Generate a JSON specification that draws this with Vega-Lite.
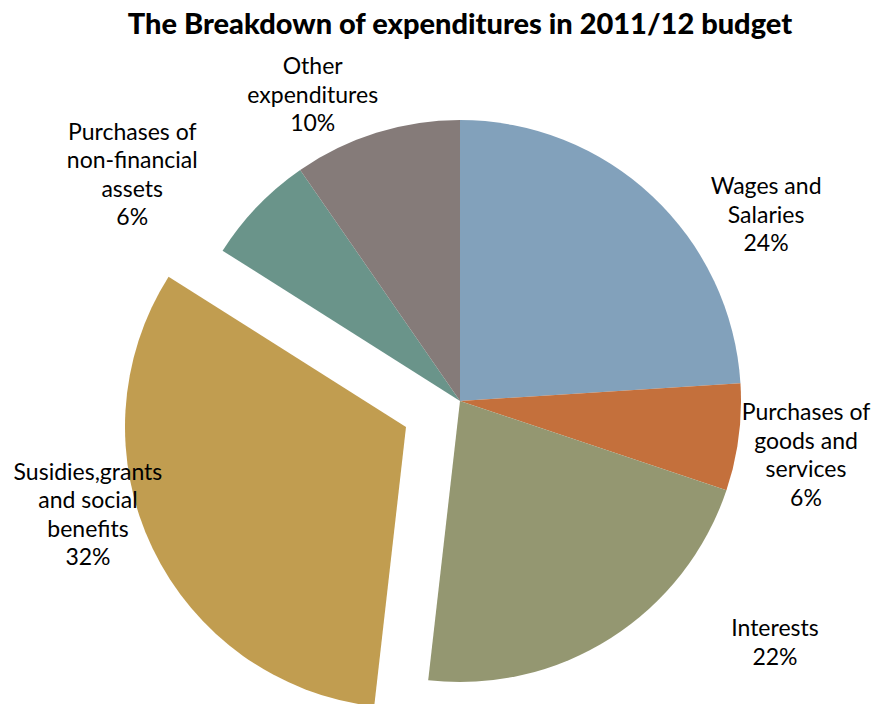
{
  "$schema": "https://vega.github.io/schema/vega-lite/v6.json",
  "width": 920,
  "height": 702,
  "autosize": {"type": "none"},
  "padding": {"left": 0, "top": 50, "right": 0, "bottom": 0},
  "background": "white",
  "view": {"stroke": null},
  "title": {"text": "The Breakdown of expenditures in 2011/12 budget", "font": "Lato", "fontSize": 29, "fontWeight": 900, "color": "black", "anchor": "middle", "frame": "group", "offset": -43},
  "data": {"values": [
    {"idx": 1, "category": "Wages and Salaries", "value": 24.0, "label": "Wages and\nSalaries\n24%"},
    {"idx": 2, "category": "Purchases of goods and services", "value": 6.15, "label": "Purchases of\ngoods and\nservices\n6%"},
    {"idx": 3, "category": "Interests", "value": 21.66, "label": "Interests\n22%"},
    {"idx": 4, "category": "Susidies,grants and social benefits", "value": 32.18, "label": "Susidies,grants\nand social\nbenefits\n32%"},
    {"idx": 5, "category": "Purchases of non-financial assets", "value": 6.39, "label": "Purchases of\nnon-financial\nassets\n6%"},
    {"idx": 6, "category": "Other expenditures", "value": 9.63, "label": "Other\nexpenditures\n10%"}
  ]},
  "encoding": {
    "theta": {"field": "value", "type": "quantitative", "stack": true},
    "order": {"field": "idx", "type": "quantitative"}
  },
  "layer": [
    {
      "mark": {"type": "arc", "outerRadius": 281},
      "encoding": {
        "color": {"field": "category", "type": "nominal", "legend": null,
          "scale": {"domain": ["Wages and Salaries", "Purchases of goods and services", "Interests", "Susidies,grants and social benefits", "Purchases of non-financial assets", "Other expenditures"],
                    "range": ["#82A1BB", "#C4703C", "#949771", "#C19D50", "#6A948A", "#857B79"]}},
        "fillOpacity": {"condition": {"test": "datum.idx === 4", "value": 0}, "value": 1}
      }
    },
    {
      "mark": {"type": "arc", "outerRadius": 281, "xOffset": -54, "yOffset": 26},
      "encoding": {
        "color": {"field": "category", "type": "nominal", "legend": null},
        "fillOpacity": {"condition": {"test": "datum.idx === 4", "value": 1}, "value": 0}
      }
    },
    {
      "mark": {"type": "text", "radius": 373.4, "thetaOffset": 0.207, "font": "Lato", "fontSize": 23, "lineBreak": "\n", "lineHeight": 28.5, "align": "center", "baseline": "middle", "color": "black"},
      "encoding": {"text": {"condition": {"test": "datum.idx === 1", "field": "label", "type": "nominal"}, "value": ""}}
    },
    {
      "mark": {"type": "text", "radius": 346.2, "thetaOffset": -0.095, "font": "Lato", "fontSize": 23, "lineBreak": "\n", "lineHeight": 28.5, "align": "center", "baseline": "middle", "color": "black"},
      "encoding": {"text": {"condition": {"test": "datum.idx === 2", "field": "label", "type": "nominal"}, "value": ""}}
    },
    {
      "mark": {"type": "text", "radius": 388.9, "thetaOffset": -0.377, "font": "Lato", "fontSize": 23, "lineBreak": "\n", "lineHeight": 28.5, "align": "center", "baseline": "middle", "color": "black"},
      "encoding": {"text": {"condition": {"test": "datum.idx === 3", "field": "label", "type": "nominal"}, "value": ""}}
    },
    {
      "mark": {"type": "text", "radius": 378.9, "thetaOffset": 0.256, "font": "Lato", "fontSize": 23, "lineBreak": "\n", "lineHeight": 28.5, "align": "center", "baseline": "middle", "color": "black"},
      "encoding": {"text": {"condition": {"test": "datum.idx === 4", "field": "label", "type": "nominal"}, "value": ""}}
    },
    {
      "mark": {"type": "text", "radius": 423.6, "thetaOffset": -0.079, "font": "Lato", "fontSize": 23, "lineBreak": "\n", "lineHeight": 28.5, "align": "center", "baseline": "middle", "color": "black"},
      "encoding": {"text": {"condition": {"test": "datum.idx === 5", "field": "label", "type": "nominal"}, "value": ""}}
    },
    {
      "mark": {"type": "text", "radius": 364.9, "thetaOffset": -0.113, "font": "Lato", "fontSize": 23, "lineBreak": "\n", "lineHeight": 28.5, "align": "center", "baseline": "middle", "color": "black"},
      "encoding": {"text": {"condition": {"test": "datum.idx === 6", "field": "label", "type": "nominal"}, "value": ""}}
    }
  ]
}
